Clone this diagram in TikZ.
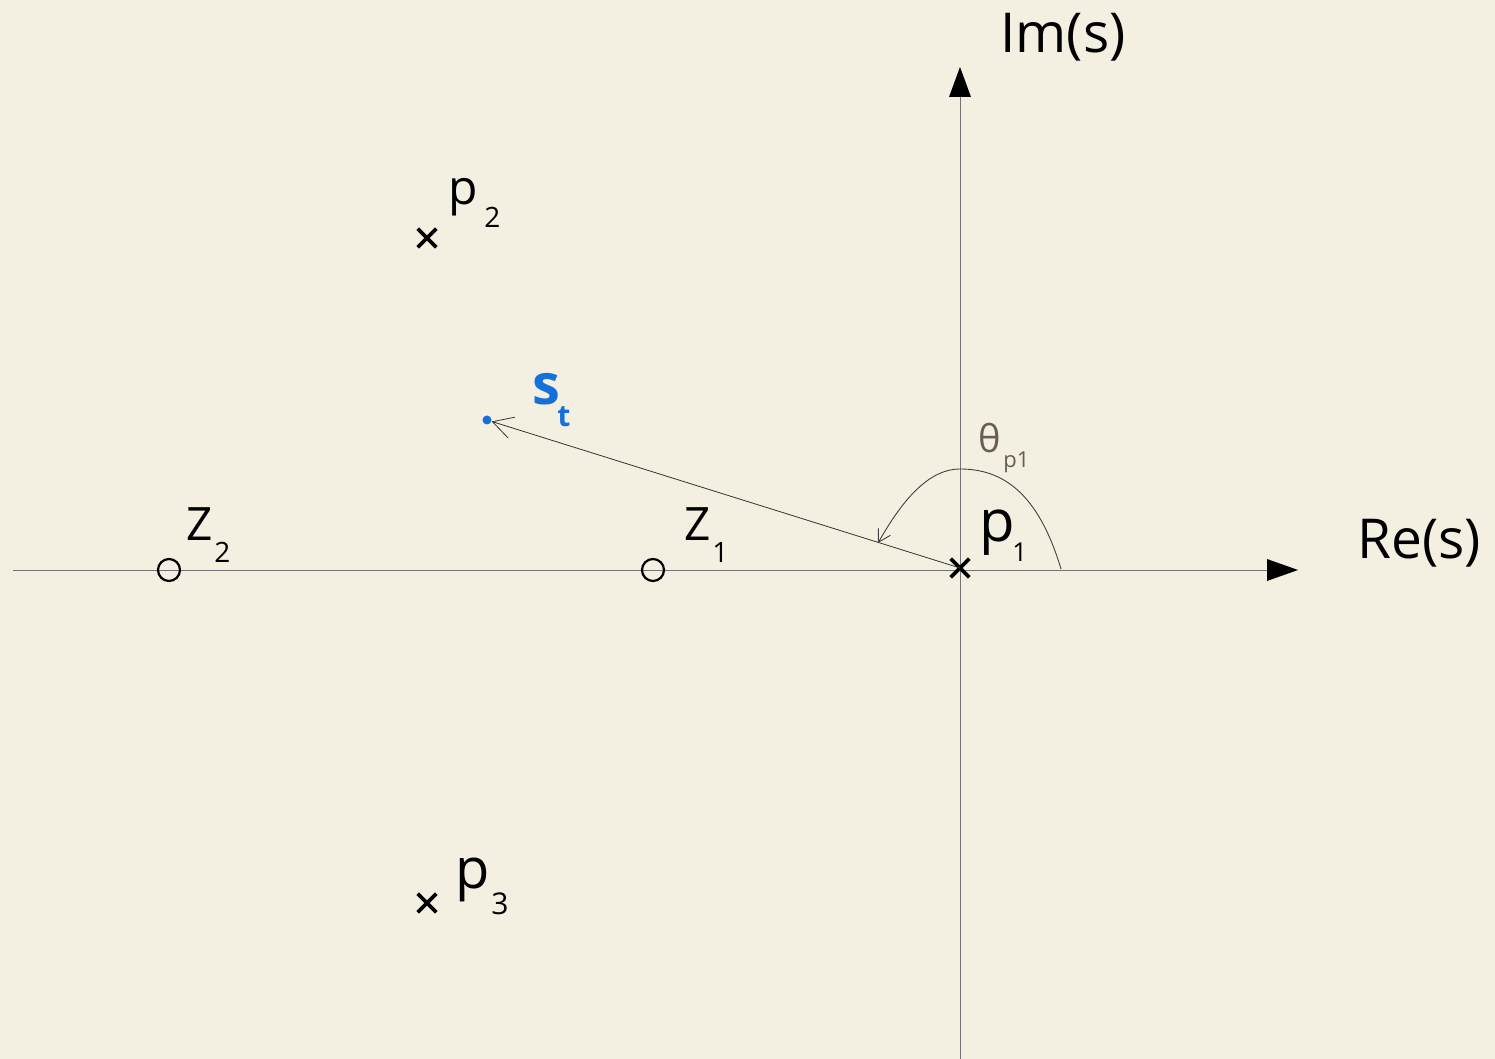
\documentclass[tikz,border=0pt]{standalone}
\usepackage{fontspec}
\setmainfont{Open Sans}
\usetikzlibrary{arrows.meta,shapes.misc}
\definecolor{bg}{RGB}{244,240,225}
\definecolor{axisgray}{RGB}{115,115,115}
\definecolor{stblue}{RGB}{22,112,218}
\definecolor{thetacol}{RGB}{105,92,85}
\tikzset{
  pole/.style={cross out,draw=black,line width=1.8pt,minimum size=7.5pt,inner sep=0pt},
  zero/.style={circle,draw=black,line width=1.1pt,minimum size=11pt,inner sep=0pt},
  axis/.style={draw=axisgray,line width=0.5pt},
  lbl/.style={inner sep=0pt,anchor=base west,text=black},
  mid/.style={font=\fontsize{23}{26}\selectfont},
  sub/.style={font=\fontsize{13}{15}\selectfont},
}
\begin{document}
\begin{tikzpicture}[x=0.5pt,y=-0.5pt]
\fill[bg] (0,0) rectangle (1495,1059);
\useasboundingbox (0,0) rectangle (1495,1059);
% axes
\coordinate (xl) at (13,570);
\coordinate (xr) at (1270,570);
\coordinate (xtip) at (1298,570);
\coordinate (yb) at (960,1059);
\coordinate (yt) at (960,95);
\coordinate (ytip) at (960,67);
\draw[axis] (xl) -- (xr);
\draw[axis] (yb) -- (yt);
\path[fill=black] (1267,559) -- (xtip) -- (1267,581) -- cycle;
\path[fill=black] (949,97) -- (ytip) -- (971,97) -- cycle;
\node[lbl,font=\fontsize{27.5}{30}\selectfont] (im) at (1000,53) {Im(s)};
\node[lbl,font=\fontsize{27.5}{30}\selectfont] (re) at (1357,558) {Re(s)};
% poles and zeros
\node[pole] (p1) at (960,568) {};
\node[pole] (p2) at (427,238) {};
\node[pole] (p3) at (427,903) {};
\node[zero] (z1) at (653,570) {};
\node[zero] (z2) at (169,570) {};
% s_t
\node[circle,fill=stblue,minimum size=4.5pt,inner sep=0pt] (st) at (487,420) {};
\draw[draw=black!80,line width=0.4pt,-{Straight Barb[length=10pt,width=11pt]}] (p1.center) -- (st);
% angle arc
\coordinate (a0) at (1061,569);
\coordinate (atop) at (960,469);
\coordinate (a1) at (878,543);
\draw[draw=black!75,line width=0.45pt,-{Straight Barb[length=6pt,width=7pt]}]
  (a0) .. controls (1038,492) and (1002,469) .. (atop)
       .. controls (925,469) and (898,508) .. (a1);
% labels
\node[lbl,font=\fontsize{29}{31}\selectfont] (p1l) at (979,541) {p};
\node[lbl,sub] (p1s) at (1012,561) {1};
\node[lbl,font=\fontsize{24}{26}\selectfont] (p2l) at (448,205) {p};
\node[lbl,font=\fontsize{14}{16}\selectfont] (p2s) at (484,228) {2};
\node[lbl,font=\fontsize{28}{30}\selectfont] (p3l) at (455,888) {p};
\node[lbl,font=\fontsize{15}{17}\selectfont] (p3s) at (491,914) {3};
\node[lbl,mid] (z2l) at (186,540) {Z};
\node[lbl,font=\fontsize{14}{16}\selectfont] (z2s) at (214,562) {2};
\node[lbl,mid] (z1l) at (684,540) {Z};
\node[lbl,font=\fontsize{14}{16}\selectfont] (z1s) at (712,562) {1};
\node[lbl,text=thetacol,font=\fontsize{19}{21}\selectfont] (th) at (978,452) {θ};
\node[lbl,text=thetacol,font=\fontsize{11}{13}\selectfont] (ths) at (1003,467) {p1};
\node[lbl,text=stblue,font=\bfseries\fontsize{28}{30}\selectfont] (stl) at (532,405) {s};
\node[lbl,text=stblue,font=\bfseries\fontsize{15}{17}\selectfont] (sts) at (557,427) {t};
\end{tikzpicture}
\end{document}
